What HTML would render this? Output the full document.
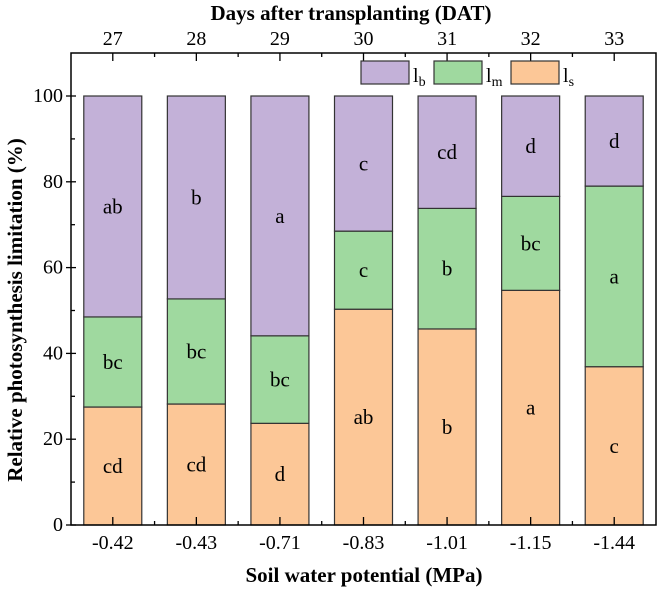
<!DOCTYPE html>
<html><head><meta charset="utf-8"><style>
body{margin:0;background:#fff;}
svg, svg text{font-family:"Liberation Serif","DejaVu Serif",serif;fill:#000;}
</style></head><body>
<svg width="661" height="588" viewBox="0 0 661 588" xmlns="http://www.w3.org/2000/svg" font-family="Liberation Serif, serif">
<g id="plot"></g>
<text x="351" y="20" text-anchor="middle" font-size="21" font-weight="bold" font-family="Liberation Serif, serif">Days after transplanting (DAT)</text>
<text x="364" y="582" text-anchor="middle" font-size="21" font-weight="bold" font-family="Liberation Serif, serif">Soil water potential (MPa)</text>
<text transform="translate(22,310) rotate(-90)" text-anchor="middle" font-size="21" font-weight="bold" font-family="Liberation Serif, serif">Relative photosynthesis limitation (%)</text>
<g>
<rect x="361" y="61" width="48" height="23" fill="#c3b1d8" stroke="#333" stroke-width="1.2"/>
<text x="413" y="82" font-size="20" font-family="Liberation Serif, serif">l<tspan font-size="14" dy="4">b</tspan></text>
<rect x="434" y="61" width="48" height="23" fill="#9fd99f" stroke="#333" stroke-width="1.2"/>
<text x="486" y="82" font-size="20" font-family="Liberation Serif, serif">l<tspan font-size="14" dy="4">m</tspan></text>
<rect x="511" y="61" width="48" height="23" fill="#fcc797" stroke="#333" stroke-width="1.2"/>
<text x="563" y="82" font-size="20" font-family="Liberation Serif, serif">l<tspan font-size="14" dy="4">s</tspan></text>
</g>
</svg>
<script>
const categories = ["-0.42","-0.43","-0.71","-0.83","-1.01","-1.15","-1.44"];
const days = ["27","28","29","30","31","32","33"];
const ls = [27.5, 28.2, 23.7, 50.3, 45.7, 54.7, 36.9];
const lm = [21.0, 24.5, 20.4, 18.2, 28.1, 21.9, 42.1];
const lb = [51.5, 47.3, 55.9, 31.5, 26.2, 23.4, 21.0];
const lsLetters = ["cd","cd","d","ab","b","a","c"];
const lmLetters = ["bc","bc","bc","c","b","bc","a"];
const lbLetters = ["ab","b","a","c","cd","d","d"];
const yTicks = [0,20,40,60,80,100];

const NS="http://www.w3.org/2000/svg";
const FF="Liberation Serif, serif";
const L=71,R=656,T=53,B=525,Y100=96;
const step=(R-L)/categories.length, bw=58;
const xc=i=>L+step*(i+0.5);
const y=v=>B-(B-Y100)*v/100;
const g=document.getElementById('plot');
function mk(tag,attrs){const e=document.createElementNS(NS,tag);for(const k in attrs)e.setAttribute(k,attrs[k]);g.appendChild(e);return e;}
const series=[[ls,"#fcc797","ls",lsLetters],[lm,"#9fd99f","lm",lmLetters],[lb,"#c3b1d8","lb",lbLetters]];
categories.forEach((c,i)=>{
  let base=0;
  series.forEach(([vals,col,nm,letters])=>{
    const v=vals[i];
    const r=mk('rect',{x:xc(i)-bw/2,y:y(base+v),width:bw,height:y(base)-y(base+v),fill:col,stroke:"#333","stroke-width":1.2});
    
    
    const t=mk('text',{x:xc(i),y:y(base+v/2)+7,"text-anchor":"middle","font-size":21,"font-family":FF});
    t.textContent=letters[i];
    
    
    base+=v;
  });
});
const fr=mk('path',{d:`M${L},${T}V${B}H${R}V${T}Z`,fill:"none",stroke:"#000","stroke-width":1.5});


categories.forEach((c,i)=>{
  const x=xc(i);
  mk('line',{x1:x,x2:x,y1:B,y2:B-8,stroke:"#000","stroke-width":1.3});
  mk('line',{x1:x,x2:x,y1:T,y2:T+8,stroke:"#000","stroke-width":1.3});
  const xm=L+step*(i+1);
  if(i<categories.length-1){
    mk('line',{x1:xm,x2:xm,y1:B,y2:B-4,stroke:"#000","stroke-width":1.3});
    mk('line',{x1:xm,x2:xm,y1:T,y2:T+4,stroke:"#000","stroke-width":1.3});
  }
  const t=mk('text',{x:x,y:B+24,"text-anchor":"middle","font-size":20,"font-family":FF});
  t.textContent=c;
  
  
  const t2=mk('text',{x:x,y:T-8,"text-anchor":"middle","font-size":20,"font-family":FF});
  t2.textContent=days[i];
  
  
});
yTicks.forEach(v=>{
  mk('line',{x1:L-5,x2:L+5,y1:y(v),y2:y(v),stroke:"#000","stroke-width":1.3});
  if(v<100)mk('line',{x1:L,x2:L+4,y1:y(v+10),y2:y(v+10),stroke:"#000","stroke-width":1.3});
  const t=mk('text',{x:L-8,y:y(v)+6,"text-anchor":"end","font-size":20,"font-family":FF});
  t.textContent=v;
  
  
});
</script>
</body></html>
